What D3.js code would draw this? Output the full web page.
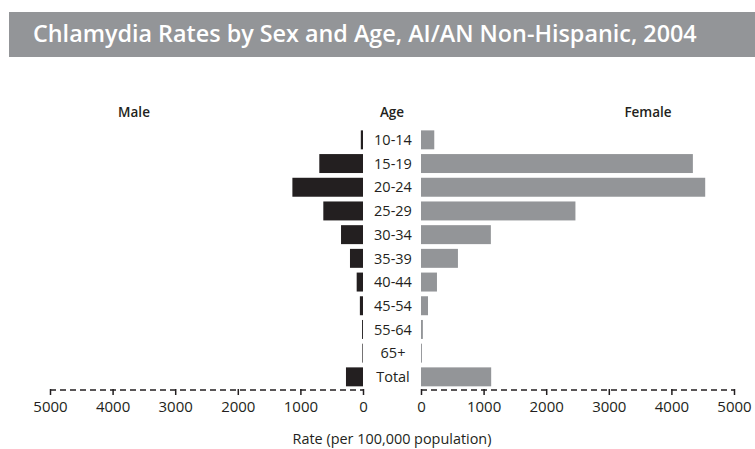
<!DOCTYPE html>
<html><head><meta charset="utf-8">
<script src="https://cdn.jsdelivr.net/npm/d3@7"></script>
<style>
html,body{margin:0;padding:0;background:#fff;}
svg{display:block;}
text{font-family:"Open Sans",sans-serif;fill:#231f20;}
</style></head>
<body>
<svg id="chart" width="755" height="449"></svg>
<script>
const title = "Chlamydia Rates by Sex and Age, AI/AN Non-Hispanic, 2004";
const ages = ["10-14","15-19","20-24","25-29","30-34","35-39","40-44","45-54","55-64","65+","Total"];
const maleRates = [35, 698, 1128, 634, 351, 208, 101, 50, 15, 10, 272];
const femaleRates = [212, 4343, 4540, 2467, 1116, 590, 255, 112, 30, 15, 1121];
const tickValues = [0, 1000, 2000, 3000, 4000, 5000];
const axisTitle = "Rate (per 100,000 population)";

const svg = d3.select("#chart");
const maleColor = "#231f20", femaleColor = "#939598";

function fit(sel, size, width) {
  sel.style("font-size", size + "px");
  const w = sel.node().getComputedTextLength();
  sel.style("font-size", (size * width / w).toFixed(2) + "px");
}

// Title bar
svg.append("rect").attr("x", 9).attr("y", 12).attr("width", 746).attr("height", 45).attr("fill", "#939598");
const tt = svg.append("text").attr("x", 33).attr("y", 42).text(title)
  .style("fill", "#fff").style("font-weight", 600);
fit(tt, 19, 664);

// Scales
const xL = d3.scaleLinear().domain([0, 5000]).range([363, 50]);
const xR = d3.scaleLinear().domain([0, 5000]).range([421, 734]);
const y = d3.scaleBand().domain(ages).range([128, 388.7]).paddingInner(0.2).paddingOuter(0.1);

// Headers
const hdr = [["Male", 134], ["Age", 392], ["Female", 648]];
svg.selectAll(".hdr").data(hdr).join("text").attr("class", "hdr")
  .attr("x", d => d[1]).attr("y", 117).attr("text-anchor", "middle")
  .style("font-size", "13.5px").style("font-weight", 600).text(d => d[0]);

// Bars
svg.selectAll(".male").data(ages).join("rect").attr("class", "male")
  .attr("x", (d, i) => xL(maleRates[i])).attr("y", d => y(d))
  .attr("width", (d, i) => xL(0) - xL(maleRates[i])).attr("height", y.bandwidth())
  .attr("fill", maleColor);
svg.selectAll(".female").data(ages).join("rect").attr("class", "female")
  .attr("x", xR(0)).attr("y", d => y(d))
  .attr("width", (d, i) => xR(femaleRates[i]) - xR(0)).attr("height", y.bandwidth())
  .attr("fill", femaleColor);

// Age labels
svg.selectAll(".age").data(ages).join("text").attr("class", "age")
  .attr("x", 393).attr("y", d => y(d) + y.bandwidth() / 2).attr("dy", "0.36em")
  .attr("text-anchor", "middle").style("font-size", "14.5px").style("font-weight", 500).text(d => d);

// Axes
function drawAxis(scale) {
  const g = svg.append("g").attr("transform", "translate(0,390)");
  const ax = d3.axisBottom(scale).tickValues(tickValues).tickSize(5).tickPadding(6).tickFormat(d3.format("d"));
  g.call(ax);
  g.select(".domain").remove();
  g.selectAll(".tick line").attr("stroke", "#231f20").attr("stroke-width", 1.5).attr("y1", -1);
  g.selectAll(".tick text").style("font-size", "15px").style("font-family", "'Open Sans',sans-serif")
    .style("font-weight", 500).attr("fill", "#231f20");
  const r = scale.range();
  g.append("line").attr("x1", Math.min(...r)).attr("x2", Math.max(...r)).attr("y1", 0).attr("y2", 0)
    .attr("stroke", "#231f20").attr("stroke-width", 1.5).attr("stroke-dasharray", "6,4");
}
drawAxis(xL);
drawAxis(xR);

const at = svg.append("text").attr("x", 392).attr("y", 444).attr("text-anchor", "middle")
  .style("font-weight", 500).text(axisTitle);
fit(at, 13, 199);
</script>
</body></html>
